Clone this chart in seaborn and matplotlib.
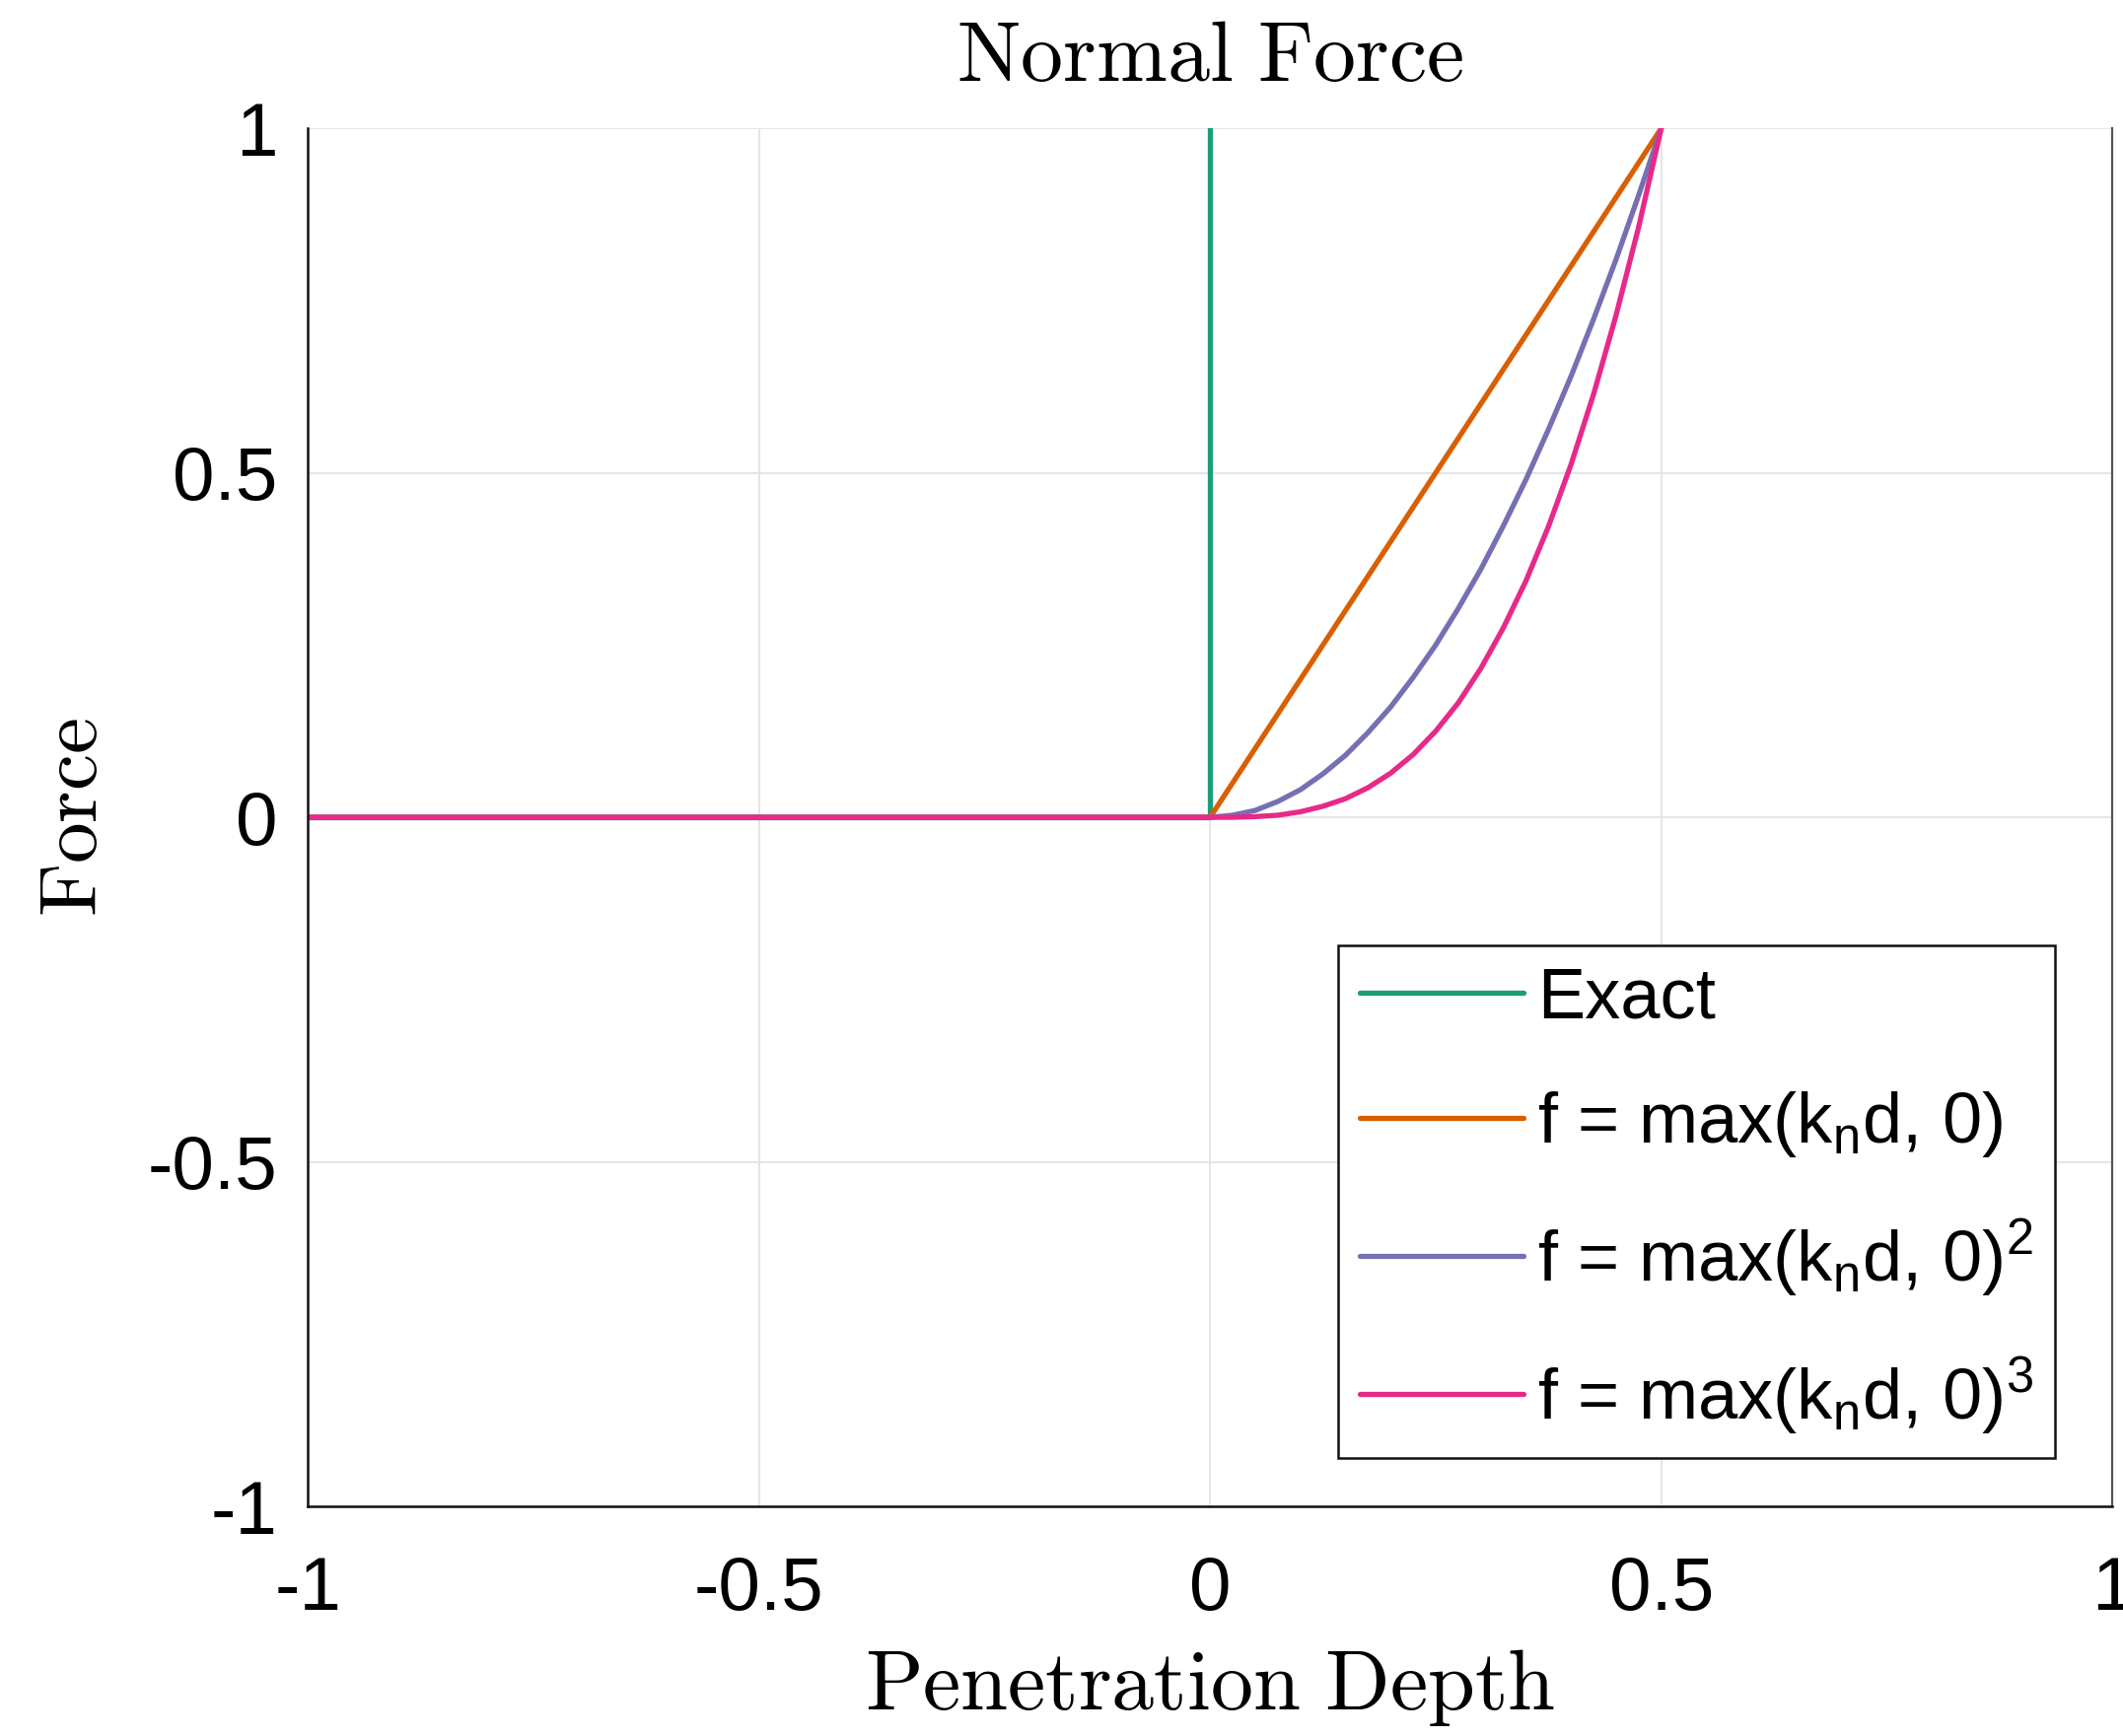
import matplotlib
matplotlib.use("Agg")
import matplotlib.pyplot as plt
import pandas as pd
import seaborn as sns

# Penetration depth samples (the contact-free part is flat at zero)
depth_flat = [-1.0, -0.5, 0.0]
depth_contact = [0.0, 0.025, 0.05, 0.075, 0.1, 0.125, 0.15, 0.175, 0.2, 0.225, 0.25,
                 0.275, 0.3, 0.325, 0.35, 0.375, 0.4, 0.425, 0.45, 0.475, 0.5]

# Exact (step) contact force
exact_depth = [-1.0, 0.0, 0.0]
exact_force = [0.0, 0.0, 1.0]

# Penalty forces
force_linear = [0.0, 0.05, 0.1, 0.15, 0.2, 0.25, 0.3, 0.35, 0.4, 0.45, 0.5,
                0.55, 0.6, 0.65, 0.7, 0.75, 0.8, 0.85, 0.9, 0.95, 1.0]
force_quad = [0.0, 0.003, 0.01, 0.023, 0.04, 0.063, 0.09, 0.123, 0.16, 0.203, 0.25,
              0.303, 0.36, 0.423, 0.49, 0.563, 0.64, 0.723, 0.81, 0.903, 1.0]
force_cubic = [0.0, 0.0, 0.001, 0.003, 0.008, 0.016, 0.027, 0.043, 0.064, 0.091, 0.125,
               0.166, 0.216, 0.275, 0.343, 0.422, 0.512, 0.614, 0.729, 0.857, 1.0]

series_names = ["Exact",
                "f = max(k$_n$d, 0)",
                "f = max(k$_n$d, 0)$^2$",
                "f = max(k$_n$d, 0)$^3$"]
series_colors = ["#1b9e77", "#d95f02", "#7570b3", "#e7298a"]

x_ticks = [-1, -0.5, 0, 0.5, 1]
y_ticks = [-1, -0.5, 0, 0.5, 1]
x_tick_labels = ["-1", "-0.5", "0", "0.5", "1"]
y_tick_labels = ["-1", "-0.5", "0", "0.5", "1"]

frames = [pd.DataFrame({"depth": exact_depth, "force": exact_force, "series": series_names[0]})]
for name, vals in zip(series_names[1:], [force_linear, force_quad, force_cubic]):
    d = depth_flat[:-1] + depth_contact
    f = [0.0] * (len(depth_flat) - 1) + vals
    frames.append(pd.DataFrame({"depth": d, "force": f, "series": name}))
data = pd.concat(frames, ignore_index=True)

sns.set_theme(style="white")
plt.rcParams["font.family"] = ["Liberation Sans", "DejaVu Sans"]
plt.rcParams["mathtext.fontset"] = "cm"
plt.rcParams["mathtext.default"] = "regular"

fig = plt.figure(figsize=(21.53, 17.61), dpi=100)
ax = fig.add_axes([0.145, 0.1323, 0.85, 0.7938])

sns.lineplot(data=data, x="depth", y="force", hue="series", hue_order=series_names,
             palette=dict(zip(series_names, series_colors)), estimator=None, sort=False,
             linewidth=3.8, ax=ax, legend=True)

ax.set_xlim(-1, 1)
ax.set_ylim(-1, 1)
ax.set_xticks(x_ticks)
ax.set_xticklabels(x_tick_labels)
ax.set_yticks(y_ticks)
ax.set_yticklabels(y_tick_labels)
ax.grid(True, color="#e3e3e3", linewidth=1.3)
ax.set_axisbelow(True)

for side in ["left", "bottom"]:
    ax.spines[side].set_color("#111111")
    ax.spines[side].set_linewidth(1.8)
ax.spines["top"].set_visible(False)
ax.spines["right"].set_color("#555555")
ax.spines["right"].set_linewidth(1.6)

ax.tick_params(axis="both", direction="in", length=14, width=1.2, color="#111111",
               labelsize=55, labelcolor="black")
ax.tick_params(axis="y", pad=22)
ax.tick_params(axis="x", pad=36)

ax.set_title(r"$\mathrm{Normal\ Force}$", fontsize=62, pad=35, color="black")
ax.set_xlabel(r"$\mathrm{Penetration\ Depth}$", fontsize=62, labelpad=16, color="black")
ax.set_ylabel(r"$\mathrm{Force}$", fontsize=60, labelpad=25, color="black")

handles, labels = ax.get_legend_handles_labels()
for h in handles:
    h.set_linewidth(3.8)
leg = ax.legend(handles, labels, loc="lower right", bbox_to_anchor=(0.968, 0.035),
                borderaxespad=0, fontsize=52, frameon=True, fancybox=False,
                handlelength=2.3, handletextpad=0.2, labelspacing=0.8, borderpad=0.3)
leg.get_frame().set_edgecolor("#111111")
leg.get_frame().set_linewidth(1.8)
leg.get_frame().set_alpha(1)
for t in leg.get_texts():
    t.set_color("black")

fig.savefig("out.png", dpi=100, facecolor="white")
